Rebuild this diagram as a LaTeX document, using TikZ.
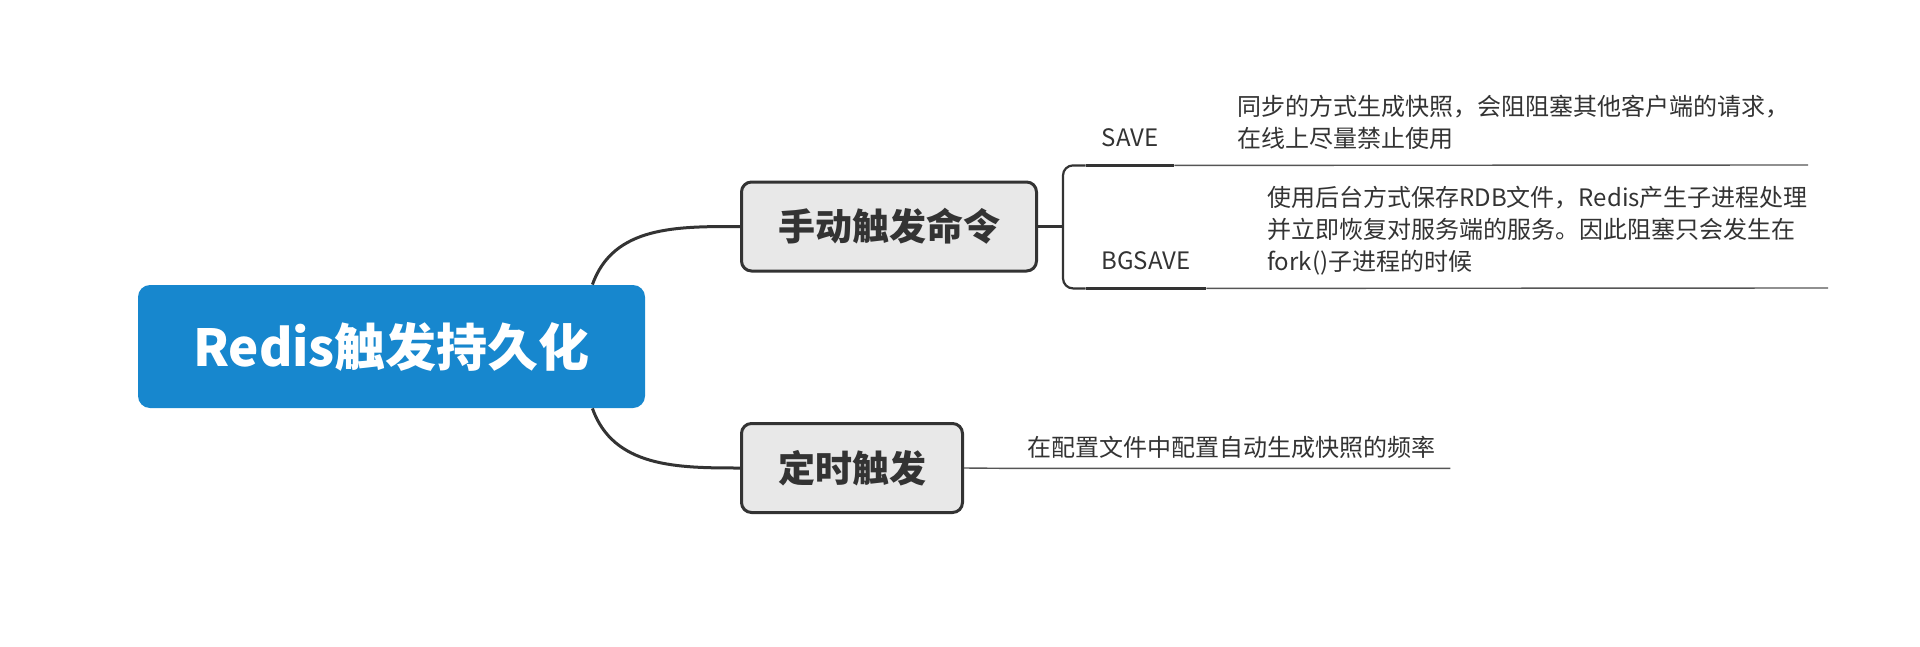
\documentclass[tikz,border=0pt]{standalone}
\usepackage{fontspec}
\setmainfont{Noto Sans CJK SC}
\definecolor{redisblue}{HTML}{1787CE}
\definecolor{topicgray}{HTML}{E8E8E8}
\definecolor{topicline}{HTML}{333333}
\definecolor{leafline}{HTML}{555555}

\begin{document}
\begin{tikzpicture}[x=0.5pt, y=-0.5pt,
  topic/.style={draw=topicline, line width=1.5pt, fill=topicgray, rounded corners=5pt, text=topicline, font=\fontsize{18.5}{22}\selectfont\bfseries, minimum height=44.5pt},
  leaf/.style={text=topicline, font=\fontsize{12}{16}\selectfont, inner sep=0pt},
  branch/.style={draw=topicline, line width=1.5pt},
  forkline/.style={draw=topicline, line width=1.1pt},
  thinline/.style={draw=leafline, line width=0.7pt}]
\useasboundingbox (0,0) rectangle (1920,647);

\node[fill=redisblue, rounded corners=6pt, minimum width=253.5pt, minimum height=61.5pt, text=white, font=\fontsize{25.5}{30}\selectfont\bfseries] (root) at (391.5,346.5) {Redis触发持久化};

\node[topic, minimum width=147.5pt] (manual) at (889,226.5) {手动触发命令};
\node[topic, minimum width=110.5pt] (timed) at (852,468) {定时触发};

\node[leaf, minimum width=44pt, minimum height=27pt] (save) at (1130,138) {SAVE};
\node[leaf, anchor=west, align=left] (savedesc) at (1237,122.5) {同步的方式生成快照，会阻阻塞其他客户端的请求，\\在线上尽量禁止使用};
\node[leaf, minimum width=60pt, minimum height=27pt] (bgsave) at (1146,261) {BGSAVE};
\node[leaf, anchor=west, align=left] (bgsavedesc) at (1267,230.5) {使用后台方式保存RDB文件，Redis产生子进程处理\\并立即恢复对服务端的服务。因此阻塞只会发生在\\fork()子进程的时候};
\node[leaf, minimum width=219pt, minimum height=21pt] (timeddesc) at (1231,447) {在配置文件中配置自动生成快照的频率};

\coordinate (split) at (1063,226.5);
\coordinate (saveend) at (1808,165);
\coordinate (bgsaveend) at (1828,288);

% branches
\draw[branch] ([xshift=-26.5pt]root.north east) .. controls +(21,-59) and +(-63,0) .. (manual.west);
\draw[branch] ([xshift=-26.5pt]root.south east) .. controls +(21,59) and +(-63,0) .. (timed.west);

% leaves
\draw[forkline] (manual.east) -- (split);
\draw[forkline, rounded corners=5pt] (save.south west) -- (save.south west -| split) -- (bgsave.south west -| split) -- (bgsave.south west);
\draw[forkline] (save.south west) -- (save.south east);
\draw[forkline] (bgsave.south west) -- (bgsave.south east);
\draw[thinline] (save.south east) -- (saveend);
\draw[thinline] (bgsave.south east) -- (bgsaveend);
\draw[thinline] (timed.east) -- (timeddesc.south west) -- (timeddesc.south east);
\end{tikzpicture}
\end{document}
